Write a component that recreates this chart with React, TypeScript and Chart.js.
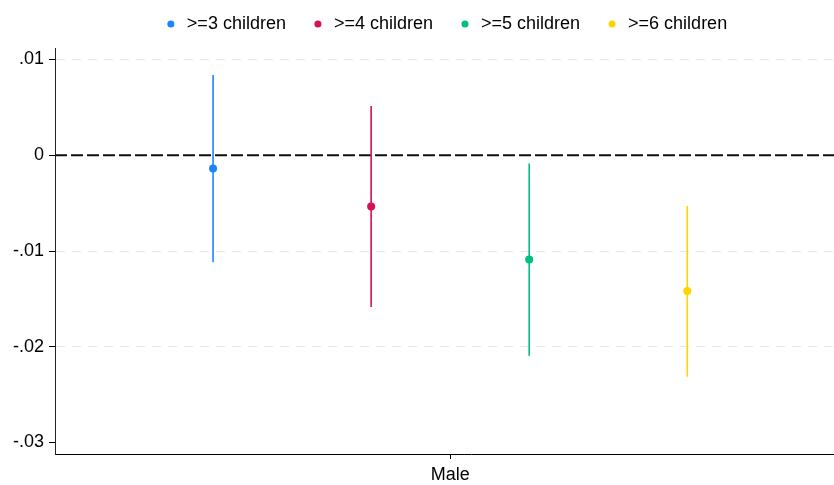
import React, { useEffect, useRef } from "react";
import { Chart, registerables } from "chart.js";

Chart.register(...registerables);

const categories = ["Male"];
const seriesLabels = [">=3 children", ">=4 children", ">=5 children", ">=6 children"];
const seriesColors = ["#1a85ff", "#d41159", "#00bf7f", "#ffd400"];
const estimates = [-0.00138, -0.00534, -0.01088, -0.01418];
const ciLower = [-0.01117, -0.01585, -0.02095, -0.02313];
const ciUpper = [0.00837, 0.00514, -0.00086, -0.0053];
const yTicks = [-0.03, -0.02, -0.01, 0, 0.01];

const fmtTick = (v: number) => {
  if (Math.abs(v) < 1e-12) return "0";
  return (v < 0 ? "-" : "") + Math.abs(v).toFixed(2).replace(/^0/, "");
};

export default function App() {
  const ref = useRef<HTMLCanvasElement | null>(null);
  useEffect(() => {
    if (!ref.current) return;
    const n = seriesLabels.length;
    const catPos = 1;
    const xMin = 0.5;
    const xMax = 1.5527;
    const datasets: any[] = [];
    seriesLabels.forEach((lab, i) => {
      const x = catPos + (i - (n - 1) / 2) * 0.2;
      datasets.push({
        type: "line",
        label: lab,
        data: [{ x, y: estimates[i] }],
        showLine: false,
        backgroundColor: seriesColors[i],
        borderColor: seriesColors[i],
        borderWidth: 0,
        pointRadius: 4,
        pointBorderWidth: 0,
        pointStyle: "circle",
        order: 0,
      });
      datasets.push({
        type: "line",
        label: "",
        data: [
          { x, y: ciLower[i] },
          { x, y: ciUpper[i] },
        ],
        borderColor: seriesColors[i],
        backgroundColor: seriesColors[i],
        borderWidth: 1.6,
        pointRadius: 0,
        order: 1,
      });
    });
    datasets.push({
      type: "line",
      label: "",
      data: [
        { x: xMin, y: 0 },
        { x: xMax, y: 0 },
      ],
      borderColor: "#111111",
      borderWidth: 2,
      borderDash: [12, 4],
      pointRadius: 0,
      order: 10,
    });

    const legendMargin = {
      id: "legendMargin",
      beforeInit(chart: any) {
        const fit = chart.legend.fit;
        chart.legend.fit = function () {
          fit.bind(chart.legend)();
          this.height += 5;
        };
      },
    };

    Chart.defaults.font.family = "'Liberation Sans', Arial, sans-serif";
    Chart.defaults.font.size = 18;
    Chart.defaults.color = "#000";

    const chart = new Chart(ref.current, {
      type: "line",
      data: { datasets },
      plugins: [legendMargin],
      options: {
        animation: false,
        responsive: false,
        layout: { padding: { top: -10, left: 0, right: 0, bottom: 0 } },
        plugins: {
          tooltip: { enabled: false },
          legend: {
            position: "top",
            align: "center",
            labels: {
              usePointStyle: true,
              boxWidth: 14,
              boxHeight: 5,
              padding: 25,
              color: "#000",
              font: { size: 18 },
              filter: (item: any) => !!item.text,
            },
          },
        },
        scales: {
          x: {
            type: "linear",
            min: xMin,
            max: xMax,
            afterBuildTicks: (scale: any) => {
              scale.ticks = categories.map((_, i) => ({ value: catPos + i }));
            },
            afterFit: (scale: any) => {
              scale.height = 31;
            },
            ticks: {
              padding: 5,
              color: "#000",
              font: { size: 18 },
              callback: (v: any) => {
                const idx = Math.round(Number(v) - catPos);
                return categories[idx] ?? "";
              },
            },
            grid: {
              drawOnChartArea: false,
              drawTicks: true,
              tickLength: 5,
              tickColor: "#000",
              tickWidth: 1,
            },
            border: { display: true, color: "#000", width: 1 },
          },
          y: {
            type: "linear",
            min: -0.0312,
            max: 0.0112,
            afterBuildTicks: (scale: any) => {
              scale.ticks = yTicks.map((v) => ({ value: v }));
            },
            afterFit: (scale: any) => {
              scale.width = 55;
            },
            ticks: {
              padding: 5,
              color: "#000",
              font: { size: 18 },
              callback: (v: any) => fmtTick(Number(v)),
            },
            grid: {
              color: (ctx: any) => {
                const v = ctx.tick ? ctx.tick.value : 1;
                if (Math.abs(v) < 1e-9 || Math.abs(v + 0.03) < 1e-9) return "rgba(0,0,0,0)";
                return "#e6e6e6";
              },
              lineWidth: 1,
              drawTicks: true,
              tickLength: 6,
              tickColor: "#000",
              tickWidth: 1,
            },
            border: { display: true, color: "#222", width: 1, dash: [9, 7] },
          },
        },
      } as any,
    });
    return () => chart.destroy();
  }, []);

  return (
    <div
      style={{
        position: "fixed",
        left: 0,
        top: 0,
        width: 834,
        height: 485,
        overflow: "hidden",
        background: "#fff",
      }}
    >
      <canvas ref={ref} width={891} height={485} style={{ display: "block", width: 891, height: 485 }} />
    </div>
  );
}
